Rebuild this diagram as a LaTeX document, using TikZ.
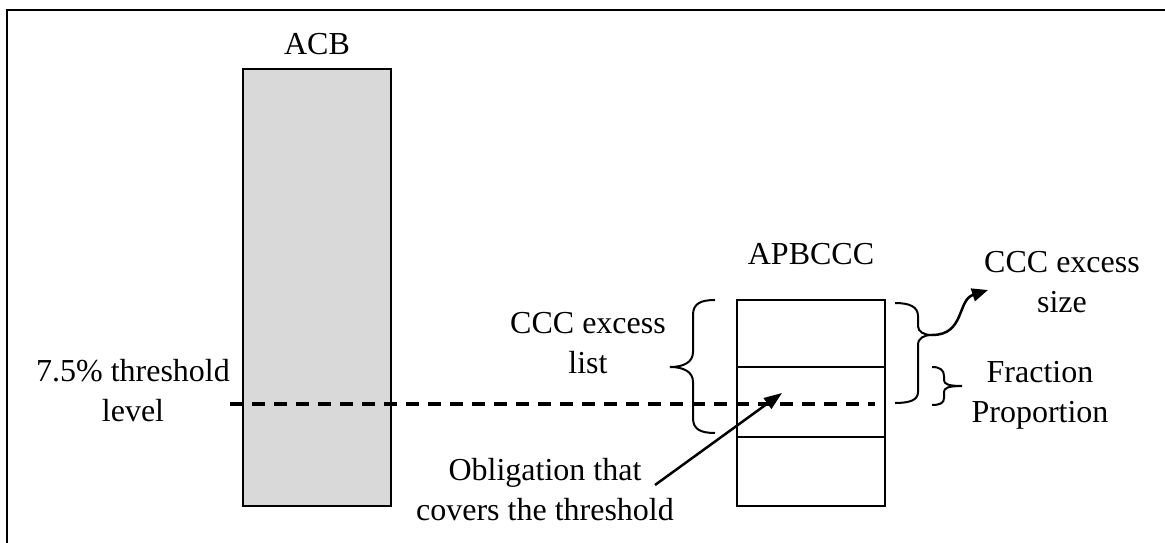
\documentclass[tikz,border=0pt]{standalone}
\usepackage{fontspec}
\setmainfont{Liberation Serif}
\usetikzlibrary{arrows.meta}

\begin{document}
\begin{tikzpicture}[x=1pt,y=-1pt,
	txt/.style={align=center,font=\fontsize{32}{40}\selectfont,inner sep=0pt},
	bar/.style={draw,line width=2pt,inner sep=0pt,minimum width=148pt},
	brc/.style={line width=2pt},
	thr/.style={line width=3.5pt,dash pattern=on 13pt off 9pt},
	pointer/.style={line width=2.5pt,-{Triangle[length=18pt,width=13pt]}}]
		\useasboundingbox (0,0) rectangle (1165,543);
		\draw[line width=2.2pt] (1165,10) -- (7,10) -- (7,543);
		% bars
		\node (acb) at (317,287.5)[bar,fill=gray!30,minimum height=437pt]{};
		\node (cella) at (811,333.5)[bar,minimum height=67pt]{};
		\node (cellb) at (811,402)[bar,minimum height=70pt]{};
		\node (cellc) at (811,471.5)[bar,minimum height=69pt]{};
		% labels
		\node (acblbl) at (317,44)[txt]{ACB};
		\node (apblbl) at (811,254)[txt]{APBCCC};
		\node (thrlbl) at (133,391)[txt]{7.5\% threshold\\level};
		\node (listlbl) at (588,343)[txt]{CCC excess\\list};
		\node (sizelbl) at (1062,282)[txt]{CCC excess\\size};
		\node (fraclbl) at (1040,395)[txt]{Fraction\\Proportion};
		\node (obllbl) at (545,490)[txt]{Obligation that\\covers the threshold};
		% threshold
		\draw[thr] (230,404) -- (875,404);
		% braces
		\coordinate (listtip) at (670,367);
		\coordinate (sizetip) at (932,335);
		\coordinate (fractip) at (962,386);
		\draw[brc] (715,300) .. controls (700,300) and (693,304) .. (693,315) -- (693,352)
			.. controls (693,362) and (684,367) .. (listtip)
			.. controls (684,367) and (693,372) .. (693,382) -- (693,418)
			.. controls (693,429) and (700,433) .. (715,433);
		\draw[brc] (895,303) .. controls (910,303) and (918,307) .. (918,316) -- (918,326)
			.. controls (918,332) and (924,335) .. (sizetip)
			.. controls (924,335) and (918,338) .. (918,345) -- (918,392)
			.. controls (918,400) and (910,403) .. (895,403);
		\draw[brc] (932,367) .. controls (940,367) and (944,370) .. (944,376) -- (944,380)
			.. controls (944,384) and (948,386) .. (fractip)
			.. controls (948,386) and (944,388) .. (944,392) -- (944,398)
			.. controls (944,403) and (940,405) .. (932,405);
		% arrows
		\coordinate (sizeend) at (988,290);
		\coordinate (oblstart) at (655,485);
		\coordinate (oblend) at (782,393);
		\draw[line width=2.5pt,-{Triangle[length=16pt,width=13pt]}] (sizetip) .. controls (965,335) and (957,300) .. (sizeend);
		\draw[pointer] (oblstart) -- (oblend);
\end{tikzpicture}
\end{document}
